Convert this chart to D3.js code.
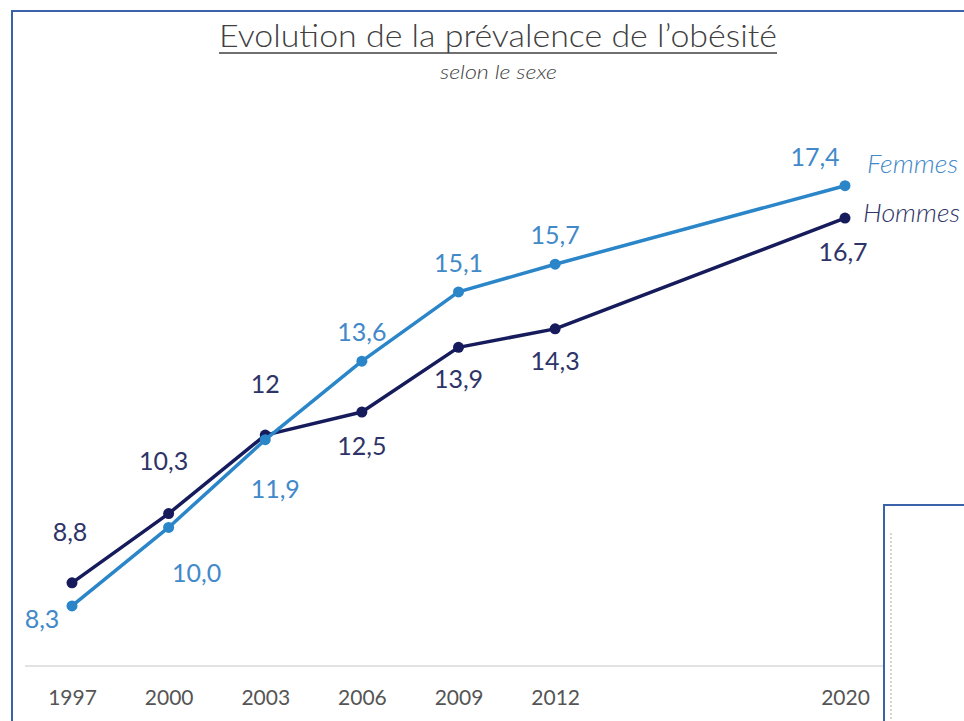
<!DOCTYPE html>
<html>
<head>
<meta charset="utf-8">
<script src="https://cdn.jsdelivr.net/npm/d3@7"></script>
<style>
  body { margin: 0; background: #fff; }
  svg { display: block; font-family: Lato, "Open Sans", sans-serif; }
</style>
</head>
<body>
<script>
// categories (2015 and 2018 are empty slots on the axis)
var slots = ["1997", "2000", "2003", "2006", "2009", "2012", "2015", "2018", "2020"];
var years = ["1997", "2000", "2003", "2006", "2009", "2012", "2020"];
var femmes = [8.3, 10.0, 11.9, 13.6, 15.1, 15.7, 17.4];
var hommes = [8.8, 10.3, 12, 12.5, 13.9, 14.3, 16.7];
var femmesLabels = ["8,3", "10,0", "11,9", "13,6", "15,1", "15,7", "17,4"];
var hommesLabels = ["8,8", "10,3", "12", "12,5", "13,9", "14,3", "16,7"];

// label offsets (baseline) from each point
var femmesOff = [[-30, 21], [28, 54], [10, 57], [0, -21], [0, -21], [0, -21], [-30, -21]];
var hommesOff = [[-2, -43], [-5, -45], [0, -43], [0, 42], [0, 40], [0, 40], [-2, 42]];

var W = 964, H = 721;
var cF = "#2b86c9", cH = "#161b5c";
var tF = "#4189c9", tH = "#2e3468";

var svg = d3.select("body").append("svg")
  .attr("width", W)
  .attr("height", H);

// outer frame
svg.append("path")
  .attr("d", "M12," + H + " V11 H" + W)
  .attr("fill", "none")
  .attr("stroke", "#3a62a8")
  .attr("stroke-width", 2);

svg.append("text")
  .attr("x", 219)
  .attr("y", 47)
  .attr("font-size", 31)
  .attr("font-weight", 300)
  .attr("textLength", 558)
  .attr("lengthAdjust", "spacingAndGlyphs")
  .attr("fill", "#404040")
  .text("Evolution de la prévalence de l’obésité");
svg.append("line")
  .attr("x1", 219).attr("x2", 777)
  .attr("y1", 53).attr("y2", 53)
  .attr("stroke", "#404040")
  .attr("stroke-width", 1.5);
svg.append("text")
  .attr("x", 440)
  .attr("y", 79)
  .attr("font-size", 19)
  .attr("font-style", "italic")
  .attr("font-weight", 300)
  .attr("textLength", 117)
  .attr("lengthAdjust", "spacingAndGlyphs")
  .attr("fill", "#404040")
  .text("selon le sexe");

var x = d3.scalePoint().domain(slots).range([72, 845]);
var y = d3.scaleLinear().domain([7, 18]).range([666, 158]);

// baseline axis
svg.append("line")
  .attr("x1", 25).attr("x2", W)
  .attr("y1", y(7)).attr("y2", y(7))
  .attr("stroke", "#d9d9d9")
  .attr("stroke-width", 1.5);

var xAxis = svg.append("g")
  .attr("transform", "translate(0," + y(7) + ")")
  .call(d3.axisBottom(x).tickValues(years).tickSize(0).tickPadding(24));
xAxis.select(".domain").remove();
xAxis.selectAll("text")
  .attr("font-family", "Lato, 'Open Sans', sans-serif")
  .attr("font-size", 21)
  .attr("fill", "#555");

var line = d3.line()
  .x(function(d, i) { return x(years[i]); })
  .y(function(d) { return y(d); });

function series(vals, labels, offs, col, tcol) {
  svg.append("path")
    .datum(vals)
    .attr("d", line)
    .attr("fill", "none")
    .attr("stroke", col)
    .attr("stroke-width", 3.5)
    .attr("stroke-linejoin", "round");
  svg.selectAll(null)
    .data(vals)
    .enter()
    .append("circle")
    .attr("cx", function(d, i) { return x(years[i]); })
    .attr("cy", function(d) { return y(d); })
    .attr("r", 5.5)
    .attr("fill", col);
  svg.selectAll(null)
    .data(vals)
    .enter()
    .append("text")
    .attr("x", function(d, i) { return x(years[i]) + offs[i][0]; })
    .attr("y", function(d, i) { return y(d) + offs[i][1] + 1; })
    .attr("text-anchor", "middle")
    .attr("font-size", 25)
    .attr("fill", tcol)
    .text(function(d, i) { return labels[i]; });
}

series(hommes, hommesLabels, hommesOff, cH, tH);
series(femmes, femmesLabels, femmesOff, cF, tF);

// series names at the end of the lines
svg.append("text")
  .attr("x", 867).attr("y", 173)
  .attr("font-size", 25)
  .attr("font-style", "italic")
  .attr("font-weight", 300)
  .attr("textLength", 91)
  .attr("lengthAdjust", "spacingAndGlyphs")
  .attr("fill", tF)
  .text("Femmes");
svg.append("text")
  .attr("x", 863).attr("y", 222)
  .attr("font-size", 25)
  .attr("font-style", "italic")
  .attr("font-weight", 300)
  .attr("textLength", 97)
  .attr("lengthAdjust", "spacingAndGlyphs")
  .attr("fill", tH)
  .text("Hommes");

// overlapping box at bottom right
svg.append("rect")
  .attr("x", 884).attr("y", 505)
  .attr("width", 200).attr("height", 300)
  .attr("fill", "#fff")
  .attr("stroke", "#3a62a8")
  .attr("stroke-width", 2);
svg.append("line")
  .attr("x1", 891).attr("x2", 891)
  .attr("y1", 533).attr("y2", H)
  .attr("stroke", "#c8c8c8")
  .attr("stroke-width", 1.5)
  .attr("stroke-dasharray", "2,2");
</script>
</body>
</html>
